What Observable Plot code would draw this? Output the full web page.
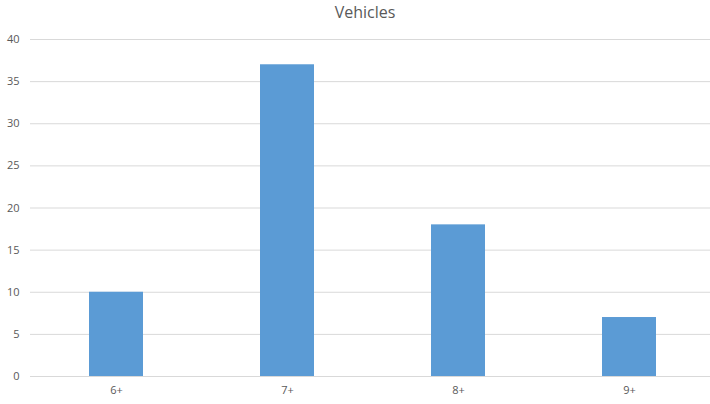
<!DOCTYPE html>
<html>
<head>
<meta charset="utf-8">
<script src="https://cdn.jsdelivr.net/npm/d3@7"></script>
<script src="https://cdn.jsdelivr.net/npm/@observablehq/plot@0.6"></script>
<style>
  html, body { margin: 0; padding: 0; background: #fff; overflow: hidden; width: 710px; height: 404px; }
  #title { height: 28px; line-height: 25px; text-align: center; font-family: "Open Sans", "Liberation Sans", sans-serif; font-size: 16px; color: #595959; width: 730px; }
  #chart svg { display: block; max-width: none !important; }
</style>
</head>
<body>
<div id="title">Vehicles</div>
<div id="chart"></div>
<script>
const categories = ["6+", "7+", "8+", "9+"];
const values = [10, 37, 18, 7];
const yTicks = [0, 5, 10, 15, 20, 25, 30, 35, 40];

const data = categories.map((c, i) => ({category: c, value: values[i]}));

const chart = Plot.plot({
  width: 716,
  height: 376,
  marginLeft: 30,
  marginRight: 0,
  marginTop: 11,
  marginBottom: 28,
  style: {fontFamily: "'Open Sans', 'Liberation Sans', sans-serif", fontSize: "11px", color: "#595959", background: "#fff", maxWidth: "none"},
  x: {domain: categories, paddingInner: 0.684, paddingOuter: 0.342, label: null},
  y: {domain: [0, 40], ticks: yTicks, label: null},
  marks: [
    Plot.gridY(yTicks, {stroke: "#d9d9d9", strokeOpacity: 1}),
    Plot.barY(data, {x: "category", y: "value", fill: "#5b9bd5"}),
    Plot.ruleY([0], {stroke: "#d9d9d9"}),
    Plot.axisY(yTicks, {tickSize: 0, tickPadding: 11, fill: "#595959", label: null}),
    Plot.axisX({tickSize: 0, tickPadding: 10, fill: "#595959", label: null})
  ]
});
document.getElementById("chart").appendChild(chart);
</script>
</body>
</html>
